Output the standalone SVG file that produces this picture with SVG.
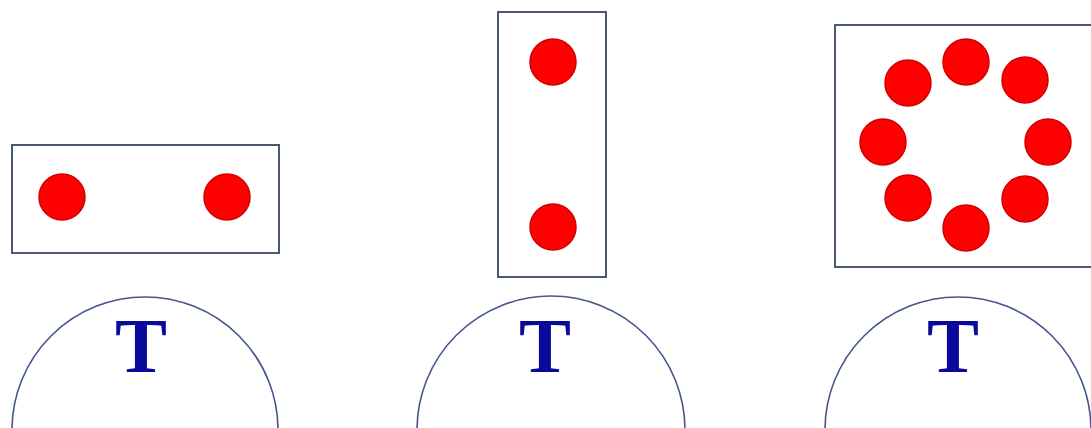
<svg xmlns="http://www.w3.org/2000/svg" width="1091" height="428" viewBox="0 0 1091 428">
<style>
.box{fill:none;stroke:#4a5872;stroke-width:2}
.dot{fill:#ff0000;stroke:#d00000;stroke-width:1.5}
.arc{fill:none;stroke:#46568e;stroke-width:1.6}
.t{font-family:"Liberation Serif",serif;font-weight:bold;font-size:78px;fill:#0a0a9a;text-anchor:middle}
</style>
<rect width="1091" height="428" fill="#ffffff"/>
<g id="panel1">
<rect class="box" x="12" y="145" width="267" height="108"/>
<circle class="dot" cx="62" cy="197" r="23"/>
<circle class="dot" cx="227" cy="197" r="23"/>
</g>
<g id="panel2">
<rect class="box" x="498" y="12" width="108" height="265"/>
<circle class="dot" cx="553" cy="62" r="23"/>
<circle class="dot" cx="553" cy="227" r="23"/>
</g>
<g id="panel3">
<rect class="box" x="835" y="25" width="262" height="242"/>
<circle class="dot" cx="966" cy="62" r="23"/>
<circle class="dot" cx="1025" cy="80" r="23"/>
<circle class="dot" cx="1048" cy="142" r="23"/>
<circle class="dot" cx="1025" cy="199" r="23"/>
<circle class="dot" cx="966" cy="228" r="23"/>
<circle class="dot" cx="908" cy="198" r="23"/>
<circle class="dot" cx="883" cy="142" r="23"/>
<circle class="dot" cx="908" cy="83" r="23"/>
</g>
<g id="target1">
<path class="arc" d="M12 430 A133 133 0 0 1 278 430"/>
<text class="t" x="141" y="372">T</text>
</g>
<g id="target2">
<path class="arc" d="M417 430 A134 134 0 0 1 685 430"/>
<text class="t" x="545" y="372">T</text>
</g>
<g id="target3">
<path class="arc" d="M825 430 A133 133 0 0 1 1091 430"/>
<text class="t" x="953" y="372">T</text>
</g>
<g id="connectors"/>
</svg>
